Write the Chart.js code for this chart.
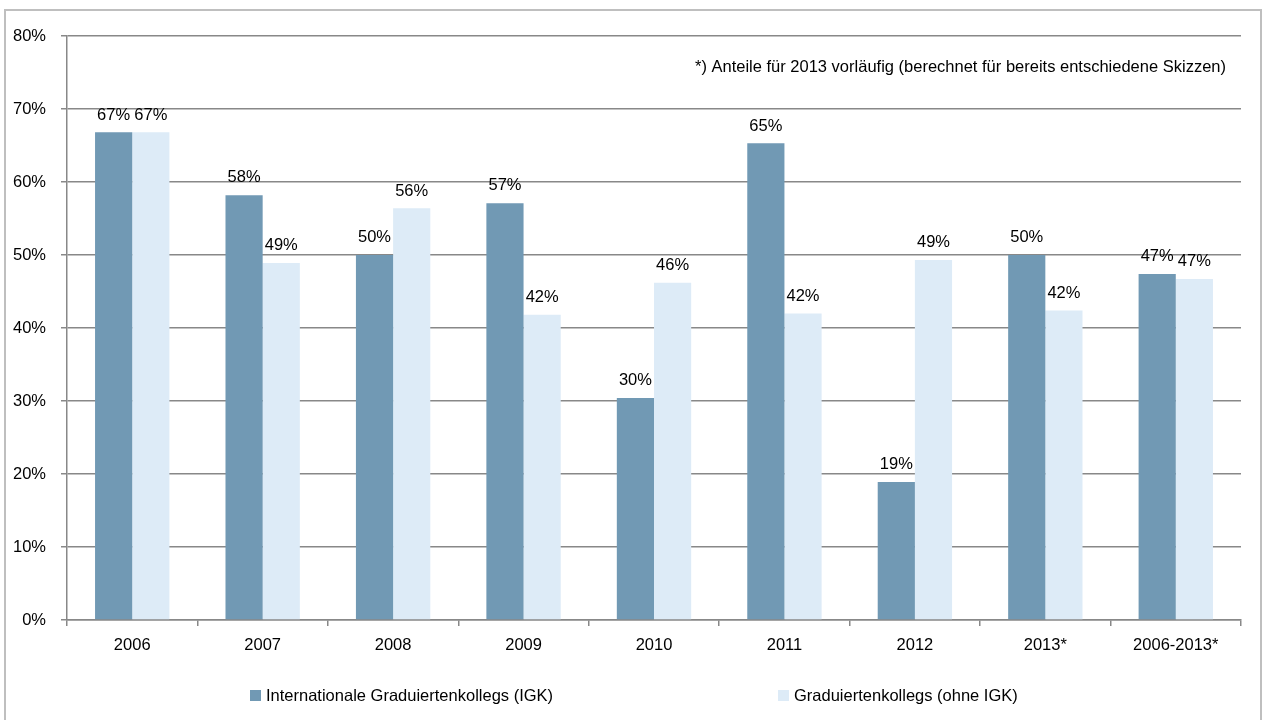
<!DOCTYPE html>
<html>
<head>
<meta charset="utf-8">
<script src="https://cdn.jsdelivr.net/npm/chart.js@4"></script>
<style>
    html, body { margin: 0; padding: 0; background: #fff; }
    #wrap { width: 1263px; height: 720px; position: relative; }
</style>
</head>
<body>
<div id="wrap"><canvas id="igkChart" width="1263" height="720"></canvas></div>
<script>
const years = ['2006', '2007', '2008', '2009', '2010', '2011', '2012', '2013*', '2006-2013*'];
const igkValues = [66.8, 58.2, 50.0, 57.1, 30.4, 65.3, 18.9, 50.0, 47.4];
const gkValues = [66.8, 48.9, 56.4, 41.8, 46.2, 42.0, 49.3, 42.4, 46.7];
const seriesNames = ['Internationale Graduiertenkollegs (IGK)', 'Graduiertenkollegs (ohne IGK)'];
const seriesColors = ['#7199B4', '#DDEBF7'];
const yTicks = [0, 10, 20, 30, 40, 50, 60, 70, 80];
const noteText = '*) Anteile für 2013 vorläufig (berechnet für bereits entschiedene Skizzen)';

const fontFamily = '"Liberation Sans", Arial, sans-serif';
const fontSize = 16.5;

// frame, note, value labels and legend
const extrasPlugin = {
    id: 'extras',
    beforeDraw(chart) {
        const ctx = chart.ctx;
        ctx.save();
        ctx.strokeStyle = '#BFBFBF';
        ctx.lineWidth = 2;
        ctx.strokeRect(5, 10, 1256, 720);
        ctx.restore();
    },
    afterDatasetsDraw(chart) {
        const ctx = chart.ctx;
        ctx.save();
        ctx.font = fontSize + 'px ' + fontFamily;
        ctx.fillStyle = '#000';
        ctx.textAlign = 'center';
        ctx.textBaseline = 'bottom';
        chart.data.datasets.forEach((ds, i) => {
            chart.getDatasetMeta(i).data.forEach((bar, j) => {
                ctx.fillText(Math.round(ds.data[j]) + '%', bar.x, bar.y - 9);
            });
        });

        ctx.textAlign = 'right';
        ctx.textBaseline = 'middle';
        ctx.fillText(noteText, 1226, 67);

        // legend
        const legendX = [250, 778];
        ctx.textAlign = 'left';
        seriesNames.forEach((name, i) => {
            ctx.fillStyle = seriesColors[i];
            ctx.fillRect(legendX[i], 690, 11, 11);
            ctx.fillStyle = '#000';
            ctx.fillText(name, legendX[i] + 16, 696);
        });
        ctx.restore();
    }
};

const chartData = {
    labels: years,
    datasets: [{
        label: seriesNames[0],
        data: igkValues,
        backgroundColor: seriesColors[0]
    }, {
        label: seriesNames[1],
        data: gkValues,
        backgroundColor: seriesColors[1]
    }]
};

const chartConfig = {
    type: 'bar',
    data: chartData,
    options: {
        responsive: false,
        animation: false,
        layout: { padding: { top: 36, left: 0, right: 22, bottom: 0 } },
        datasets: {
            bar: { categoryPercentage: 0.57, barPercentage: 1.0 }
        },
        plugins: {
            legend: { display: false },
            tooltip: { enabled: false }
        },
        scales: {
            x: {
                offset: true,
                afterFit: function (scale) { scale.height = 100; },
                grid: {
                    offset: true,
                    drawOnChartArea: false,
                    drawTicks: true,
                    tickLength: 6,
                    color: '#888',
                    lineWidth: 1.5
                },
                border: { color: '#888', width: 1.5 },
                ticks: {
                    color: '#000',
                    padding: 10,
                    maxRotation: 0,
                    font: { family: fontFamily, size: fontSize }
                }
            },
            y: {
                min: 0,
                max: 80,
                afterFit: function (scale) { scale.width = 67; },
                afterBuildTicks: function (scale) {
                    scale.ticks = yTicks.map(v => ({ value: v }));
                },
                grid: {
                    color: '#888',
                    lineWidth: 1.5,
                    tickLength: 6
                },
                border: { color: '#888', width: 1.5 },
                ticks: {
                    color: '#000',
                    padding: 15,
                    font: { family: fontFamily, size: fontSize },
                    callback: function (value) { return value + '%'; }
                }
            }
        }
    },
    plugins: [extrasPlugin]
};

new Chart(document.getElementById('igkChart'), chartConfig);
</script>
</body>
</html>
